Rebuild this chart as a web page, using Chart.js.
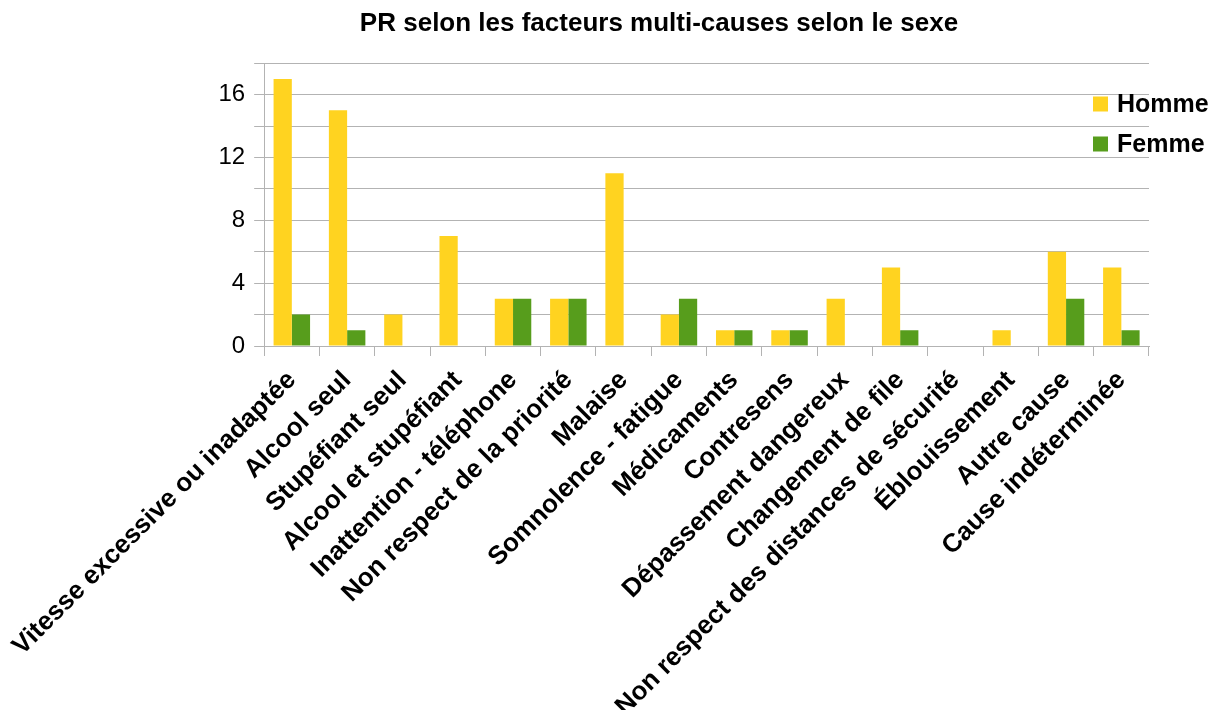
<!DOCTYPE html>
<html>
<head>
<meta charset="utf-8">
<script src="https://cdn.jsdelivr.net/npm/chart.js@4/dist/chart.umd.min.js"></script>
<style>
  body { margin: 0; background: #fff; }
  #wrap { width: 1215px; height: 710px; }
</style>
</head>
<body>
<div id="wrap"><canvas id="myChart"></canvas></div>
<script>
const categories = [
    "Vitesse excessive ou inadaptée", "Alcool seul", "Stupéfiant seul", "Alcool et stupéfiant",
    "Inattention - téléphone", "Non respect de la priorité", "Malaise", "Somnolence - fatigue",
    "Médicaments", "Contresens", "Dépassement dangereux", "Changement de file",
    "Non respect des distances de sécurité", "Éblouissement", "Autre cause", "Cause indéterminée"
]
const homme = [17, 15, 2, 7, 3, 3, 11, 2, 1, 1, 3, 5, 0, 1, 6, 5]
const femme = [2, 1, 0, 0, 3, 3, 0, 3, 1, 1, 0, 1, 0, 0, 3, 1]
const yTickLabels = [0, 4, 8, 12, 16]

const fontFamily = "'Liberation Sans', Arial, sans-serif"
const gridColor = '#b3b3b3'

// legend drawn inside the plot, on top of the right edge
const legendInside = {
    id: 'legendInside',
    afterDraw(chart) {
        const ctx = chart.ctx
        ctx.save()
        ctx.font = 'bold 25px ' + fontFamily
        ctx.textBaseline = 'middle'
        chart.data.datasets.forEach((ds, i) => {
            var y = 104 + i * 40
            ctx.fillStyle = ds.backgroundColor
            ctx.fillRect(1093, y - 7.5, 15, 15)
            ctx.fillStyle = '#000'
            ctx.fillText(ds.label, 1117, y + 1)
        })
        ctx.restore()
    }
}

const data = {
    labels: categories,
    datasets: [{
        label: 'Homme',
        backgroundColor: '#ffd320',
        data: homme
    }, {
        label: 'Femme',
        backgroundColor: '#579d1c',
        data: femme
    }]
}

const config = {
    type: 'bar',
    data,
    plugins: [legendInside],
    options: {
        responsive: true,
        maintainAspectRatio: false,
        animation: false,
        layout: { padding: { left: 169, right: 66, top: 0, bottom: 0 } },
        categoryPercentage: 0.66,
        barPercentage: 1.0,
        plugins: {
            legend: { display: false },
            tooltip: { enabled: false },
            title: {
                display: true,
                text: 'PR selon les facteurs multi-causes selon le sexe',
                color: '#000',
                font: { family: fontFamily, size: 26, weight: 'bold' },
                padding: { top: 8, bottom: 24 }
            }
        },
        scales: {
            x: {
                grid: {
                    offset: true,
                    color: (c) => (c.index === categories.length ? gridColor : 'rgba(0,0,0,0)'),
                    tickColor: gridColor,
                    tickLength: 10
                },
                border: { display: true, color: gridColor },
                ticks: {
                    autoSkip: false,
                    maxRotation: 45,
                    minRotation: 45,
                    padding: 9,
                    color: '#000',
                    font: { family: fontFamily, size: 26, weight: 'bold' }
                },
                afterFit: (scale) => { scale.height = 364 }
            },
            y: {
                min: 0,
                max: 18,
                grid: { color: gridColor, tickColor: gridColor, tickLength: 10 },
                border: { display: true, color: gridColor },
                ticks: {
                    autoSkip: false,
                    stepSize: 2,
                    padding: 9,
                    color: '#000',
                    font: { family: fontFamily, size: 24 },
                    callback: (v) => (yTickLabels.includes(v) ? v : '')
                },
                afterFit: (scale) => { scale.width = 95 }
            }
        }
    }
}

var chart = new Chart(document.getElementById('myChart'), config)
</script>
</body>
</html>
